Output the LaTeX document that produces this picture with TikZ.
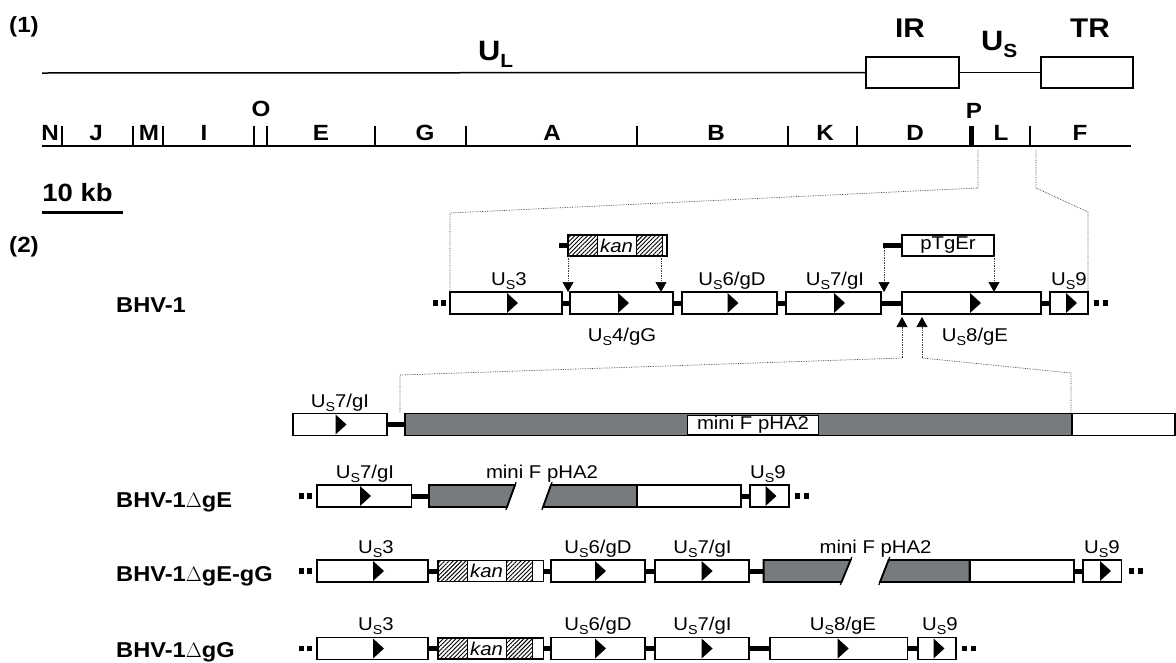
\documentclass[tikz,border=0pt]{standalone}
\usepackage{fontspec}
\setmainfont[FakeStretch=1.1]{Liberation Sans}
\usetikzlibrary{arrows.meta,patterns.meta}
\definecolor{mfgray}{RGB}{120,123,126}
\newcommand\Us{U\raisebox{-4pt}{\fontsize{13}{13}\selectfont S}}
\newcommand\gn[5]{%
  \node[genebox,minimum width={(#3)-(#2)}] (#1) at ({((#2)+(#3))/2},#4) {};
  \fill ({#5},{#4-10}) -- ({#5+11},{#4}) -- ({#5},{#4+10}) -- cycle;
}
\newcommand\twodots[2]{%
  \fill ({#1},{#2-2.7}) rectangle ++(5.4,5.4);
  \fill ({#1+8.5},{#2-2.7}) rectangle ++(5.4,5.4);
}
\newcommand\kanbox[4]{%
  \node[genebox,minimum height=21pt,minimum width={(#3)-(#2)}] (#1) at ({((#2)+(#3))/2},#4) {};
  \draw[line width=0.8pt,pattern={Lines[angle=45,distance=3pt,line width=0.9pt]}] ({#2},{#4-10.5}) rectangle ({#2+29},{#4+10.5});
  \draw[line width=0.8pt,pattern={Lines[angle=45,distance=3pt,line width=0.9pt]}] ({#2+68},{#4-10.5}) rectangle ({#2+94},{#4+10.5});
  \node[font=\fontsize{18.5}{18.5}\selectfont\itshape,inner sep=0pt] (#1t) at ({#2+48.5},#4) {kan};
  \draw[line width=1.6pt] (#1.north west) rectangle (#1.south east);
}
\begin{document}
\begin{tikzpicture}[x=1pt,y=-1pt,
  genebox/.style={draw,line width=1.6pt,fill=white,minimum height=22pt,inner sep=0pt,outer sep=0pt},
  conn/.style={line width=5pt},
  lab/.style={font=\fontsize{18.5}{18.5}\selectfont,inner sep=0pt,anchor=base},
  big/.style={font=\fontsize{21.5}{21.5}\selectfont\bfseries,inner sep=0pt,anchor=base west},
  maplab/.style={font=\fontsize{22}{22}\selectfont\bfseries,inner sep=0pt,anchor=base},
  dotl/.style={densely dotted,line width=0.7pt,black!75},
  dotarr/.style={dotl,-{Triangle[width=11pt,length=10pt,color=black]}},
  grayfill/.style={fill=mfgray,draw,line width=1.8pt},
]
\useasboundingbox (0,0) rectangle (1176,662);

% ---------- (1) genome map ----------
\node[font=\fontsize{22}{22}\selectfont\bfseries,inner sep=0pt] (p1) at (24,27) {(1)};
\node[draw,line width=2pt,minimum width=93pt,minimum height=31pt,inner sep=0pt] (ir) at (912.5,72.5) {};
\node[draw,line width=2pt,minimum width=92pt,minimum height=31pt,inner sep=0pt] (tr) at (1087,72.5) {};
\coordinate (ulstart) at (42,73);
\draw[line width=1.5pt] (ulstart) -- (ir.west);
\draw[line width=1.5pt] (ir.east) -- (tr.west);
\node[font=\fontsize{28}{28}\selectfont\bfseries,inner sep=0pt,anchor=base west] (ul) at (478,60) {U\raisebox{-7pt}{\fontsize{19}{19}\selectfont L}};
\node[font=\fontsize{27}{27}\selectfont\bfseries,inner sep=0pt,anchor=base] (irl) at (910,37) {IR};
\node[font=\fontsize{27}{27}\selectfont\bfseries,inner sep=0pt,anchor=base] (trl) at (1090,37) {TR};
\node[font=\fontsize{28}{28}\selectfont\bfseries,inner sep=0pt,anchor=base west] (usl) at (981,50) {U\raisebox{-7pt}{\fontsize{19}{19}\selectfont S}};

\coordinate (mapL) at (42,146);
\coordinate (mapR) at (1131,146);
\draw[line width=2.5pt] (mapL) -- (mapR);
\foreach \x in {62.4,133,163,254,267,375,466,637,788,857,1030}
  \draw[line width=2pt] (\x,126) -- (\x,146);
\draw[line width=4.5pt] (971.5,126) -- (971.5,146);
\foreach \t/\x in {N/50,J/96,M/149,I/204,E/321,G/425,A/552,B/716,K/825,D/915,L/1001,F/1080}
  \node[maplab] (m\t) at (\x,140) {\t};
\node[maplab] (mO) at (261,116) {O};
\node[maplab] (mP) at (974,118) {P};

\node[font=\fontsize{25}{25}\selectfont\bfseries,inner sep=0pt,anchor=base] (kb) at (77.5,201) {10 kb};
\coordinate (barL) at (42,212);
\coordinate (barR) at (122.5,212);
\draw[line width=3pt] (barL) -- (barR);

% ---------- (2) ----------
\node[font=\fontsize{22}{22}\selectfont\bfseries,inner sep=0pt] (p2) at (24,247) {(2)};

% BHV-1 row
\node[big] (r1) at (116,312) {BHV-1};
\twodots{432.5}{303}
\gn{us3}{450}{562}{303}{507}
\gn{us4}{570}{673}{303}{618}
\gn{us6}{682}{777}{303}{727.5}
\gn{us7}{786}{881}{303}{834}
\gn{us8}{902}{1041}{303}{970}
\gn{us9}{1050}{1088}{303}{1066}
\twodots{1094}{303}
\draw[conn] (us3.east) -- (us4.west);
\draw[conn] (us4.east) -- (us6.west);
\draw[conn] (us6.east) -- (us7.west);
\draw[conn] (us7.east) -- (us8.west);
\draw[conn] (us8.east) -- (us9.west);
\node[lab] (l3) at (509,285) {\Us 3};
\node[lab] (l4) at (622,341) {\Us 4/gG};
\node[lab] (l6) at (732,285) {\Us 6/gD};
\node[lab] (l7) at (835,285) {\Us 7/gI};
\node[lab] (l8) at (975,341) {\Us 8/gE};
\node[lab] (l9) at (1069,285) {\Us 9};

% map to row dotted lines
\coordinate (dA) at (978,150);
\coordinate (dB) at (1036,150);
\draw[dotl] (dA) -- (978,188) -- (450,213) -- (us3.north west);
\draw[dotl] (dB) -- (1036,188) -- (1088,212) -- (us9.north east);

% kan cassette
\kanbox{kanA}{568}{667}{245.5}
\coordinate (kanstub) at (559,245.5);
\draw[conn] (kanstub) -- (kanA.west);
\draw[dotarr] (kanA.south west) -- (kanA.south west |- us3.north);
\draw[dotarr] ([xshift=-6pt]kanA.south east) -- ([xshift=-6pt]kanA.south east |- us4.north);

% pTgEr
\node[genebox,minimum height=21pt,minimum width=92pt,font=\fontsize{18.5}{18.5}\selectfont] (ptg) at (948,245.5) {pTgEr};
\coordinate (ptgstub) at (883,245.5);
\draw[conn] (ptgstub) -- (ptg.west);
\draw[dotarr] ([xshift=1pt,yshift=-2.5pt]ptgstub) -- ([xshift=1pt]ptgstub |- us7.north);
\draw[dotarr] (ptg.south east) -- (ptg.south east |- us8.north);

% up arrows to pHA2 row
\coordinate (up1) at (902,358);
\coordinate (up2) at (922,358);
\draw[dotarr] (up1) -- ([yshift=-3pt]us8.south west);
\draw[dotarr] (up2) -- ([xshift=20pt,yshift=-3pt]us8.south west);
\coordinate (k1) at (400,375);
\coordinate (k2) at (1071,373);
\coordinate (k1b) at (400,413);
\coordinate (k2b) at (1071,413);
\draw[dotl] (up1) -- (k1) -- (k1b);
\draw[dotl] (up2) -- (k2) -- (k2b);

% pHA2 row
\gn{pus7}{293}{387}{424.5}{335.5}
\node[grayfill,minimum width=667pt,minimum height=22pt,inner sep=0pt] (pgray) at (738.5,424.5) {};
\node[fill=white,draw=black,line width=1pt,minimum width=131pt,minimum height=19pt,inner sep=0pt,font=\fontsize{18.5}{18.5}\selectfont] (plab) at (753,424.5) {mini F pHA2};
\node[genebox,line width=1.8pt,minimum width=103pt] (pwhite) at (1123.5,424.5) {};
\draw[conn] (pus7.east) -- (pgray.west);
\node[lab] (pl7) at (340,407) {\Us 7/gI};

% BHV-1 dgE
\node[big] (r2) at (116,507) {BHV-1\(\Delta\)gE};
\twodots{298.5}{496}
\gn{eus7}{317}{411.5}{496}{360}
\coordinate (eg1) at (429,496);
\filldraw[grayfill] (429,485) -- (515,485) -- (507,507) -- (429,507) -- cycle;
\draw[line width=1.2pt] (516.1,482) -- (505.9,510);
\filldraw[grayfill] (551,485) -- (637,485) -- (637,507) -- (543,507) -- cycle;
\draw[line width=1.2pt] (552.1,482) -- (541.9,510);
\node[genebox,line width=1.8pt,minimum width=104pt] (ewhite) at (689,496) {};
\gn{eus9}{750}{789}{496}{765.5}
\twodots{795}{496}
\draw[conn] (eus7.east) -- (eg1);
\draw[conn] (ewhite.east) -- (eus9.west);
\node[lab] (el7) at (365,478) {\Us 7/gI};
\node[lab] (elm) at (542,478) {mini F pHA2};
\node[lab] (el9) at (768,478) {\Us 9};

% BHV-1 dgE-gG
\node[big] (r3) at (116,581) {BHV-1\(\Delta\)gE-gG};
\twodots{298.5}{571}
\gn{dus3}{317}{428}{571}{373}
\kanbox{dkan}{438}{543.5}{571}
\gn{dus6}{551}{645}{571}{595}
\gn{dus7}{655}{749}{571}{701.6}
\coordinate (dg1) at (763.6,571);
\filldraw[grayfill] (763.6,560) -- (850.6,560) -- (841.5,582) -- (763.6,582) -- cycle;
\draw[line width=1.2pt] (851.8,557) -- (840.3,585);
\filldraw[grayfill] (888.6,560) -- (969.6,560) -- (969.6,582) -- (880,582) -- cycle;
\draw[line width=1.2pt] (889.8,557) -- (878.8,585);
\node[genebox,line width=1.8pt,minimum width=104.4pt] (dwhite) at (1021.8,571) {};
\gn{dus9}{1083}{1121.6}{571}{1100}
\twodots{1129}{571}
\draw[conn] (dus3.east) -- (dkan.west);
\draw[conn] (dkan.east) -- (dus6.west);
\draw[conn] (dus6.east) -- (dus7.west);
\draw[conn] (dus7.east) -- (dg1);
\draw[conn] (dwhite.east) -- (dus9.west);
\node[lab] (dl3) at (376,553) {\Us 3};
\node[lab] (dl6) at (598,553) {\Us 6/gD};
\node[lab] (dl7) at (702.5,553) {\Us 7/gI};
\node[lab] (dlm) at (875.6,553) {mini F pHA2};
\node[lab] (dl9) at (1102,553) {\Us 9};

% BHV-1 dgG
\node[big] (r4) at (116,657) {BHV-1\(\Delta\)gG};
\twodots{298.5}{648.5}
\gn{gus3}{317}{428}{648.5}{373}
\kanbox{gkan}{438}{543.5}{648.5}
\gn{gus6}{551}{645}{648.5}{595}
\gn{gus7}{655}{749}{648.5}{701.6}
\gn{gus8}{770}{907.6}{648.5}{837.7}
\gn{gus9}{918}{956}{648.5}{933.5}
\twodots{962}{648.5}
\draw[conn] (gus3.east) -- (gkan.west);
\draw[conn] (gkan.east) -- (gus6.west);
\draw[conn] (gus6.east) -- (gus7.west);
\draw[conn] (gus7.east) -- (gus8.west);
\draw[conn] (gus8.east) -- (gus9.west);
\node[lab] (gl3) at (376,630) {\Us 3};
\node[lab] (gl6) at (598,630) {\Us 6/gD};
\node[lab] (gl7) at (702.5,630) {\Us 7/gI};
\node[lab] (gl8) at (843,630) {\Us 8/gE};
\node[lab] (gl9) at (940,630) {\Us 9};
\end{tikzpicture}
\end{document}
